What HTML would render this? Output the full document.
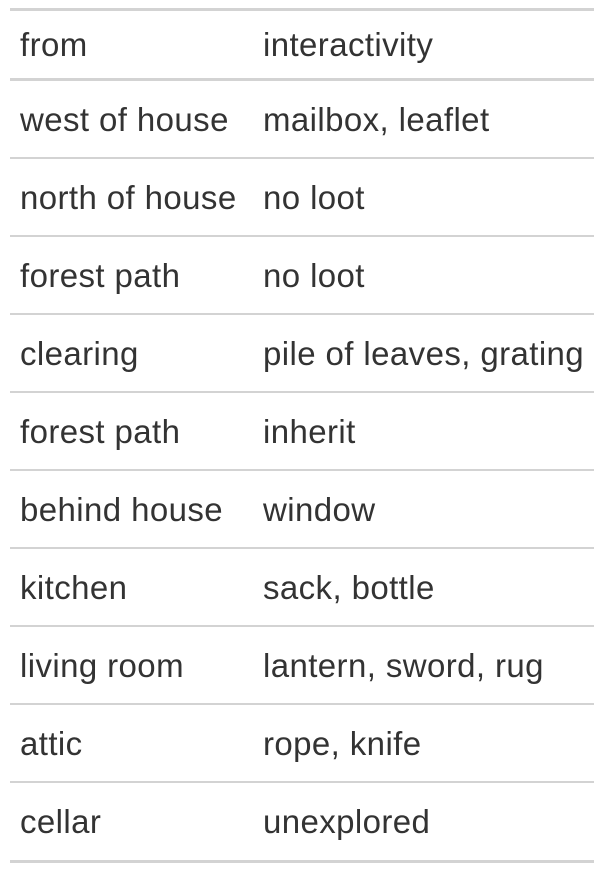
<!DOCTYPE html>
<html><head><meta charset="utf-8"><style>
html,body{margin:0;padding:0;background:#fff;width:604px;height:872px;overflow:hidden}
#t{position:relative;width:604px;height:872px;font-family:"Liberation Sans",sans-serif;font-size:33px;letter-spacing:0.4px;color:#333}
.l{position:absolute;left:10px;width:584px;background:#d3d3d3}
.c{position:absolute;height:40px;line-height:40px;white-space:nowrap}
</style></head><body>
<div id="t"></div>
<script>
const fromCol=["from","west of house","north of house","forest path","clearing","forest path","behind house","kitchen","living room","attic","cellar"];
const interCol=["interactivity","mailbox, leaflet","no loot","no loot","pile of leaves, grating","inherit","window","sack, bottle","lantern, sword, rug","rope, knife","unexplored"];
const t=document.getElementById('t');
function line(y,h,name){const d=document.createElement('div');d.className='l';d.style.top=y+'px';d.style.height=h+'px';


t.appendChild(d);}
line(8,3,'table-top-border');
line(78,3,'header-bottom-border');
for(let i=1;i<fromCol.length-1;i++){line(80+78*i-1,2,'row-divider');}
line(860,3,'table-bottom-border');
for(let i=0;i<fromCol.length;i++){
 const cy=i===0?47:122+78*(i-1);
 const a=document.createElement('div');a.className='c';a.style.left='20px';a.style.top=(cy-22)+'px';a.textContent=fromCol[i];
 
 
 t.appendChild(a);
 const b=document.createElement('div');b.className='c';b.style.left='263px';b.style.top=(cy-22)+'px';b.textContent=interCol[i];
 
 
 t.appendChild(b);
}
</script>
</body></html>
